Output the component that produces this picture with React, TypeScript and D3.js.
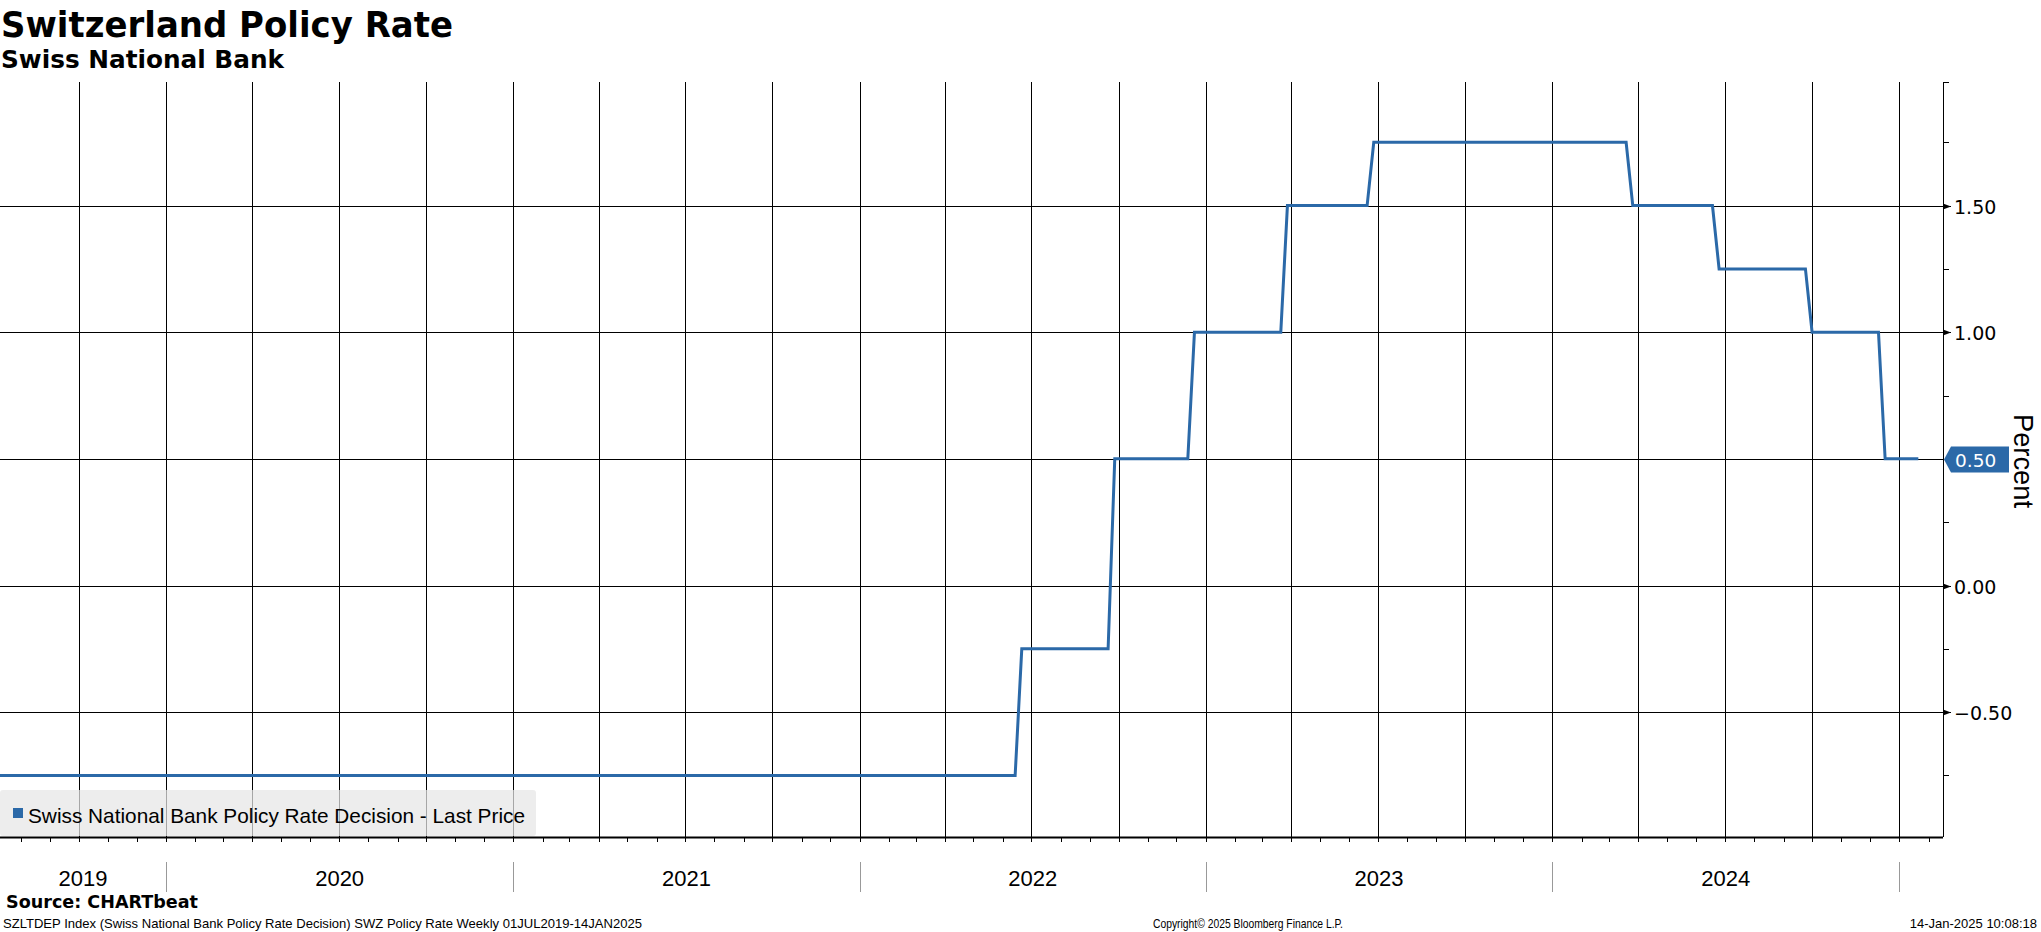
import React from "react";
import * as d3 from "d3";

const obsDates = ["2019-07-02","2022-06-14","2022-06-21","2022-09-20","2022-09-27","2022-12-13","2022-12-20","2023-03-21","2023-03-28","2023-06-20","2023-06-27","2024-03-19","2024-03-26","2024-06-18","2024-06-25","2024-09-24","2024-10-01","2024-12-10","2024-12-17","2025-01-21"];
const obsValues = [-0.75,-0.75,-0.25,-0.25,0.5,0.5,1.0,1.0,1.5,1.5,1.75,1.75,1.5,1.5,1.25,1.25,1.0,1.0,0.5,0.5];
const yMajorTicks = [-0.5, 0, 0.5, 1.0, 1.5];
const yMinorTicks = [-0.75, -0.25, 0.25, 0.75, 1.25, 1.75];
const lastValue = 0.5;

const W = 2041, H = 932;
const BLUE = "#2b69a8";
const parse = d3.timeParse("%Y-%m-%d");

export default function App() {
  const left = 0, right = 1943, top = 82, bottom = 837;
  const x = d3.scaleTime().domain([new Date(2019, 6, 10), new Date(2025, 1, 16)]).range([left, right]);
  const y = d3.scaleLinear().domain([-0.993, 1.988]).range([bottom, top]);
  const data = obsDates.map((d, i) => ({ date: parse(d) as Date, value: obsValues[i] }));
  const line = d3.line<{ date: Date; value: number }>().x(d => x(d.date)).y(d => y(d.value));
  const [d0, d1] = x.domain();
  const months = d3.timeMonth.range(d3.timeMonth.ceil(d0), d1);
  const quarters = months.filter(m => m.getMonth() % 3 === 0);
  const years = d3.timeYear.range(d3.timeYear.ceil(d0), d1);
  const yearSpans = d3.timeYear.range(d3.timeYear.floor(d0), d1).map(s => {
    const e = d3.timeYear.offset(s, 1);
    const a = Math.max(x(s), left), b = Math.min(x(e), right);
    return { label: String(s.getFullYear()), a, b };
  }).filter(s => s.b - s.a > 100);
  const ly = Math.round(y(lastValue)) + 0.5;
  const font = "'DejaVu Sans', Verdana, sans-serif";
  const narrow = "'Liberation Sans', Arial, sans-serif";
  return (
    <svg width={W} height={H} style={{ position: "absolute", left: 0, top: 0, background: "#fff" }}>
      <defs>
        <clipPath id="plot"><rect x={left} y={top} width={right - left} height={bottom - top} /></clipPath>
      </defs>
      <rect x={0} y={0} width={W} height={H} fill="#fff" />
      <text x={1} y={37} fontFamily={font} fontWeight="bold" fontSize={35} textLength={452} lengthAdjust="spacingAndGlyphs">Switzerland Policy Rate</text>
      <text x={1} y={68} fontFamily={font} fontWeight="bold" fontSize={25} textLength={283} lengthAdjust="spacingAndGlyphs">Swiss National Bank</text>

      {quarters.map((q, i) => (
        <line key={"q" + i} x1={Math.round(x(q)) + 0.5} x2={Math.round(x(q)) + 0.5} y1={top} y2={bottom} stroke="#000" strokeWidth={1} />
      ))}
      {yMajorTicks.map((t, i) => (
        <line key={"h" + i} x1={left} x2={right} y1={Math.round(y(t)) + 0.5} y2={Math.round(y(t)) + 0.5} stroke="#000" strokeWidth={1} />
      ))}

      <path d={line(data) || ""} fill="none" stroke={BLUE} strokeWidth={3} clipPath="url(#plot)" />

      <rect x={0} y={790} width={536} height={46} rx={3} fill="#e6e6e6" fillOpacity={0.72} />
      <rect x={13} y={808} width={10} height={10} fill={BLUE} />
      <text x={28} y={823} fontFamily={narrow} fontSize={21} textLength={497} lengthAdjust="spacingAndGlyphs">Swiss National Bank Policy Rate Decision - Last Price</text>

      <line x1={left} x2={right} y1={bottom + 0.5} y2={bottom + 0.5} stroke="#000" strokeWidth={2} />
      {months.map((m, i) => (
        <line key={"m" + i} x1={Math.round(x(m)) + 0.5} x2={Math.round(x(m)) + 0.5} y1={bottom} y2={bottom + 5} stroke="#000" strokeWidth={1} />
      ))}
      {years.map((yv, i) => (
        <line key={"ys" + i} x1={Math.round(x(yv)) + 0.5} x2={Math.round(x(yv)) + 0.5} y1={862} y2={892} stroke="#999" strokeWidth={1} />
      ))}
      {yearSpans.map((s, i) => (
        <text key={"yl" + i} x={(s.a + s.b) / 2} y={886} textAnchor="middle" fontFamily={narrow} fontSize={22}>{s.label}</text>
      ))}

      <line x1={right + 0.5} x2={right + 0.5} y1={top} y2={bottom} stroke="#000" strokeWidth={1} />
      {yMinorTicks.map((t, i) => (
        <line key={"mi" + i} x1={right} x2={right + 6} y1={Math.round(y(t)) + 0.5} y2={Math.round(y(t)) + 0.5} stroke="#000" strokeWidth={1} />
      ))}
      <line x1={right} x2={right + 6} y1={top + 0.5} y2={top + 0.5} stroke="#000" strokeWidth={1} />
      {yMajorTicks.filter(t => t !== lastValue).map((t, i) => (
        <g key={"ma" + i} transform={`translate(${right},${Math.round(y(t)) + 0.5})`}>
          <path d="M0,-3 L8,0 L0,3 Z" fill="#000" />
          <line x1={0} x2={8} y1={0} y2={0} stroke="#000" />
          <text x={11} y={7} fontFamily={font} fontSize={19}>{d3.format(".2f")(t)}</text>
        </g>
      ))}
      <path d={`M${right + 1},${ly} L${right + 8},${ly - 13} L${right + 66},${ly - 13} L${right + 66},${ly + 13} L${right + 8},${ly + 13} Z`} fill={BLUE} />
      <text x={right + 12} y={ly + 7} fontFamily={font} fontSize={18.5} fill="#fff">{d3.format(".2f")(lastValue)}</text>
      <text transform={`translate(2014,461) rotate(90)`} textAnchor="middle" fontFamily={narrow} fontSize={28} textLength={94} lengthAdjust="spacingAndGlyphs">Percent</text>

      <text x={6} y={908} fontFamily={font} fontWeight="bold" fontSize={18} textLength={192} lengthAdjust="spacingAndGlyphs">Source: CHARTbeat</text>
      <text x={3} y={928} fontFamily={narrow} fontSize={13} textLength={639} lengthAdjust="spacingAndGlyphs">SZLTDEP Index (Swiss National Bank Policy Rate Decision) SWZ Policy Rate  Weekly 01JUL2019-14JAN2025</text>
      <text x={1153} y={928} fontFamily={narrow} fontSize={13} textLength={190} lengthAdjust="spacingAndGlyphs">Copyright© 2025 Bloomberg Finance L.P.</text>
      <text x={2037} y={928} textAnchor="end" fontFamily={narrow} fontSize={13}>14-Jan-2025 10:08:18</text>
    </svg>
  );
}
